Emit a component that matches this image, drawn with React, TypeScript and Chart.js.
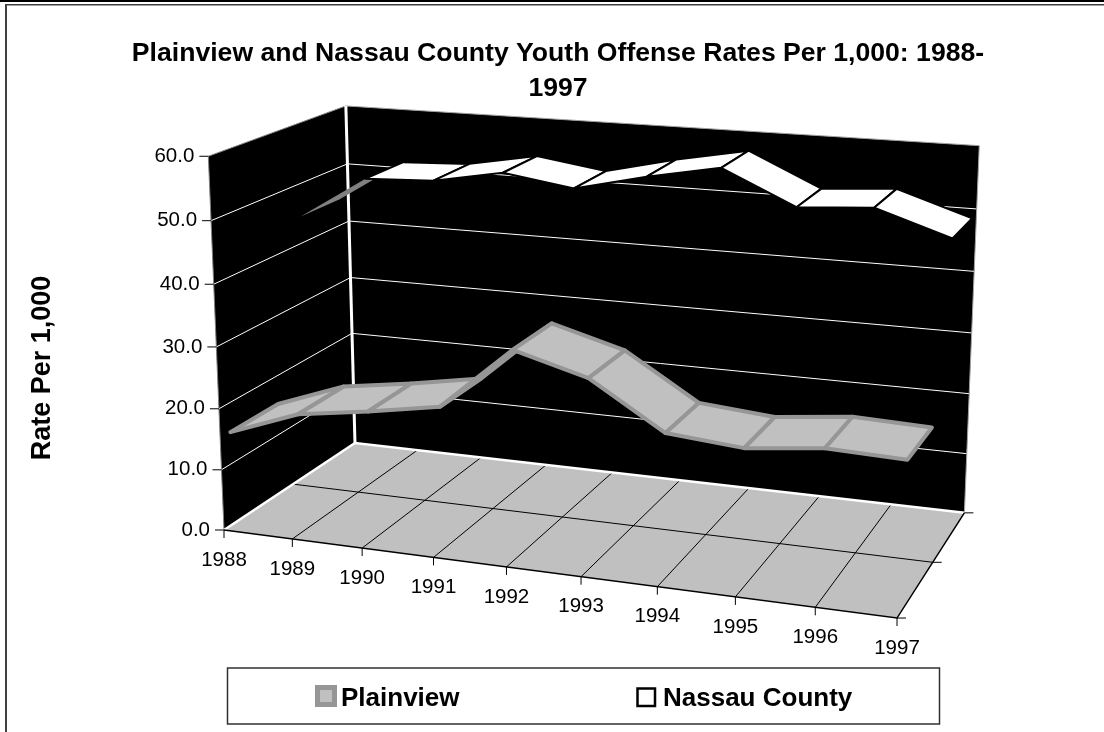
import React, { useEffect, useRef } from "react";
import { Chart, registerables } from "chart.js";

Chart.register(...registerables);

const years = ["1988", "1989", "1990", "1991", "1992", "1993", "1994", "1995", "1996", "1997"];
const plainview = [15.2, 19.4, 21.1, 23.1, 33.2, 30.0, 22.8, 21.8, 23.1, 22.7];
const nassauCounty = [44.5, 51.7, 52.2, 54.3, 52.6, 55.3, 57.5, 52.2, 53.0, 49.2];
const valueTicks = [0, 10, 20, 30, 40, 50, 60];
const titleLines = ["Plainview and Nassau County Youth Offense Rates Per 1,000: 1988-", "1997"];
const axisTitle = "Rate Per 1,000";
const seriesNames = ["Plainview", "Nassau County"];

const WIDTH = 1104;
const HEIGHT = 732;
const VALUE_MAX = 60;
const FONT = '"Liberation Sans", Arial, sans-serif';

// Perspective camera for the 3-D box: u along the years, v up the value axis, d into the depth.
const camera = {
  origin: [224, 530],
  along: [586.9, 28.7],
  up: [-24, -380],
  depth: [171.8, -36.1],
  p: -0.096,
  q: -0.04,
  r: 0.115,
};

function project(u: number, v: number, d: number) {
  const w = 1 + camera.p * u + camera.q * v + camera.r * d;
  return {
    x: (camera.origin[0] + camera.along[0] * u + camera.up[0] * v + camera.depth[0] * d) / w,
    y: (camera.origin[1] + camera.along[1] * u + camera.up[1] * v + camera.depth[1] * d) / w,
  };
}

const uOf = (i: number) => i / (years.length - 1);
const vOf = (value: number) => value / VALUE_MAX;

type Pt = { x: number; y: number };

function line(points: Pt[], color: string, width: number) {
  return {
    data: points,
    showLine: true,
    borderColor: color,
    borderWidth: width,
    pointRadius: 0,
    fill: false,
    tension: 0,
    borderCapStyle: "butt",
  };
}

function surface(points: Pt[], fillColor: string, strokeColor: string, width: number) {
  return {
    data: [...points, points[0]],
    showLine: true,
    borderColor: strokeColor,
    borderWidth: width,
    backgroundColor: fillColor,
    pointRadius: 0,
    fill: "shape",
    tension: 0,
    borderJoinStyle: "round",
    borderCapStyle: "round",
  };
}

// One ribbon panel per pair of neighbouring years, as a 3-D line series draws them.
// A panel tilted so that its underside faces the viewer takes the darker shade.
function ribbon(
  values: number[],
  front: number,
  back: number,
  topColor: string,
  undersideColor: string,
  undersideWidth: number,
  strokeColor: string,
  width: number
) {
  return values.slice(0, -1).map((value, i) => {
    const next = values[i + 1];
    const a = project(uOf(i), vOf(value), front);
    const b = project(uOf(i), vOf(value), back);
    const c = project(uOf(i + 1), vOf(next), back);
    const e = project(uOf(i + 1), vOf(next), front);
    const facing = (b.x - a.x) * (e.y - a.y) - (b.y - a.y) * (e.x - a.x);
    return facing < 0
      ? surface([a, b, c, e], undersideColor, undersideColor, undersideWidth)
      : surface([a, b, c, e], topColor, strokeColor, width);
  });
}

function buildDatasets() {
  const paint: any[] = [];
  const wallGrid = "#ffffff";

  // walls
  paint.push(surface([project(0, 0, 0), project(0, 1, 0), project(0, 1, 1), project(0, 0, 1)], "#000000", "#000000", 0));
  paint.push(surface([project(0, 0, 1), project(0, 1, 1), project(1, 1, 1), project(1, 0, 1)], "#000000", "#000000", 0));

  // value gridlines across both walls
  valueTicks.slice(1, -1).forEach((tick) => {
    const v = vOf(tick);
    paint.push(line([project(0, v, 0), project(0, v, 1), project(1, v, 1)], wallGrid, 1));
  });

  // wall edges
  paint.push(line([project(0, 0, 0), project(0, 1, 0), project(0, 1, 1)], "#808080", 1));
  paint.push(line([project(0, 1, 1), project(1, 1, 1), project(1, 0, 1)], "#a0a0a0", 1));
  paint.push(line([project(0, 0, 1), project(0, 1, 1)], wallGrid, 3));

  // floor
  paint.push(surface([project(0, 0, 0), project(0, 0, 1), project(1, 0, 1), project(1, 0, 0)], "#c0c0c0", "#c0c0c0", 0));
  years.slice(1, -1).forEach((_, i) => {
    paint.push(line([project(uOf(i + 1), 0, 0), project(uOf(i + 1), 0, 1)], "#000000", 1));
  });
  paint.push(line([project(0, 0, 0.5), project(1, 0, 0.5)], "#000000", 1));
  paint.push(line([project(0, 0, 0), project(0, 0, 1), project(1, 0, 1)], "#ffffff", 2.5));
  paint.push(line([project(0, 0, 0), project(1, 0, 0), project(1, 0, 1)], "#000000", 1.5));

  // series, back row first
  paint.push(...ribbon(nassauCounty, 0.62, 0.93, "#ffffff", "#808080", 0, "#000000", 2));
  paint.push(...ribbon(plainview, 0.07, 0.41, "#c0c0c0", "#969696", 4, "#969696", 4));

  // Chart.js paints the first dataset last, so hand them over in reverse.
  return paint.reverse();
}

const furniture = {
  id: "furniture",
  afterDraw(chart: any) {
    const { ctx, scales } = chart;
    const px = (p: Pt) => ({ x: scales.x.getPixelForValue(p.x), y: scales.y.getPixelForValue(p.y) });
    ctx.save();

    // outer frame
    ctx.fillStyle = "#000000";
    ctx.fillRect(0, 0, WIDTH, 2);
    ctx.fillStyle = "#404040";
    ctx.fillRect(5, 4, WIDTH - 5, 1.5);
    ctx.fillRect(5, 4, 2, HEIGHT - 4);

    // title
    ctx.fillStyle = "#000000";
    ctx.textAlign = "center";
    ctx.textBaseline = "alphabetic";
    ctx.font = `bold 26.6px ${FONT}`;
    ctx.fillText(titleLines[0], 558, 60.5);
    ctx.fillText(titleLines[1], 558, 96);

    // axis title
    ctx.save();
    ctx.translate(50, 368);
    ctx.rotate(-Math.PI / 2);
    ctx.font = `bold 27px ${FONT}`;
    ctx.fillText(axisTitle, 0, 0);
    ctx.restore();

    // value axis ticks and labels
    ctx.strokeStyle = "#000000";
    ctx.lineWidth = 1;
    ctx.font = `20.5px ${FONT}`;
    ctx.textAlign = "right";
    ctx.textBaseline = "middle";
    valueTicks.forEach((tick) => {
      const p = px(project(0, vOf(tick), 0));
      ctx.beginPath();
      ctx.moveTo(p.x, p.y);
      ctx.lineTo(p.x - 9, p.y);
      ctx.stroke();
      ctx.fillText(tick.toFixed(1), p.x - 14, p.y);
    });

    // year ticks and labels
    ctx.textAlign = "center";
    years.forEach((year, i) => {
      const p = px(project(uOf(i), 0, 0));
      ctx.beginPath();
      ctx.moveTo(p.x, p.y);
      ctx.lineTo(p.x, p.y + 8);
      ctx.stroke();
      ctx.fillText(year, p.x, p.y + 30);
    });

    // depth ticks on the right edge of the floor
    [0, 0.5, 1].forEach((d) => {
      const p = px(project(1, 0, d));
      ctx.beginPath();
      ctx.moveTo(p.x, p.y);
      ctx.lineTo(p.x + 9, p.y);
      ctx.stroke();
    });

    // legend
    ctx.fillStyle = "#ffffff";
    ctx.fillRect(227.5, 668, 712, 56);
    ctx.strokeStyle = "#303030";
    ctx.lineWidth = 1.5;
    ctx.strokeRect(227.5, 668, 712, 56);

    ctx.fillStyle = "#969696";
    ctx.fillRect(315, 685, 22, 22);
    ctx.fillStyle = "#c0c0c0";
    ctx.fillRect(320, 690, 12, 12);

    ctx.fillStyle = "#ffffff";
    ctx.strokeStyle = "#000000";
    ctx.lineWidth = 2.5;
    ctx.strokeRect(637.5, 688.5, 17.5, 17.5);

    ctx.fillStyle = "#000000";
    ctx.font = `bold 26px ${FONT}`;
    ctx.textAlign = "left";
    ctx.textBaseline = "alphabetic";
    ctx.fillText(seriesNames[0], 341, 706);
    ctx.fillText(seriesNames[1], 663, 706);

    ctx.restore();
  },
};

export default function App() {
  const canvasRef = useRef<HTMLCanvasElement | null>(null);

  useEffect(() => {
    document.body.style.margin = "0";
    document.body.style.background = "#ffffff";
    const chart = new Chart(canvasRef.current as HTMLCanvasElement, {
      type: "scatter",
      data: { datasets: buildDatasets() as any },
      options: {
        animation: false,
        responsive: false,
        events: [],
        layout: { padding: 0 },
        plugins: { legend: { display: false }, title: { display: false }, tooltip: { enabled: false } },
        scales: {
          x: { type: "linear", min: 0, max: WIDTH, display: false },
          y: { type: "linear", min: 0, max: HEIGHT, reverse: true, display: false },
        },
      },
      plugins: [furniture],
    } as any);
    return () => chart.destroy();
  }, []);

  return <canvas ref={canvasRef} width={WIDTH} height={HEIGHT} style={{ display: "block" }} />;
}
